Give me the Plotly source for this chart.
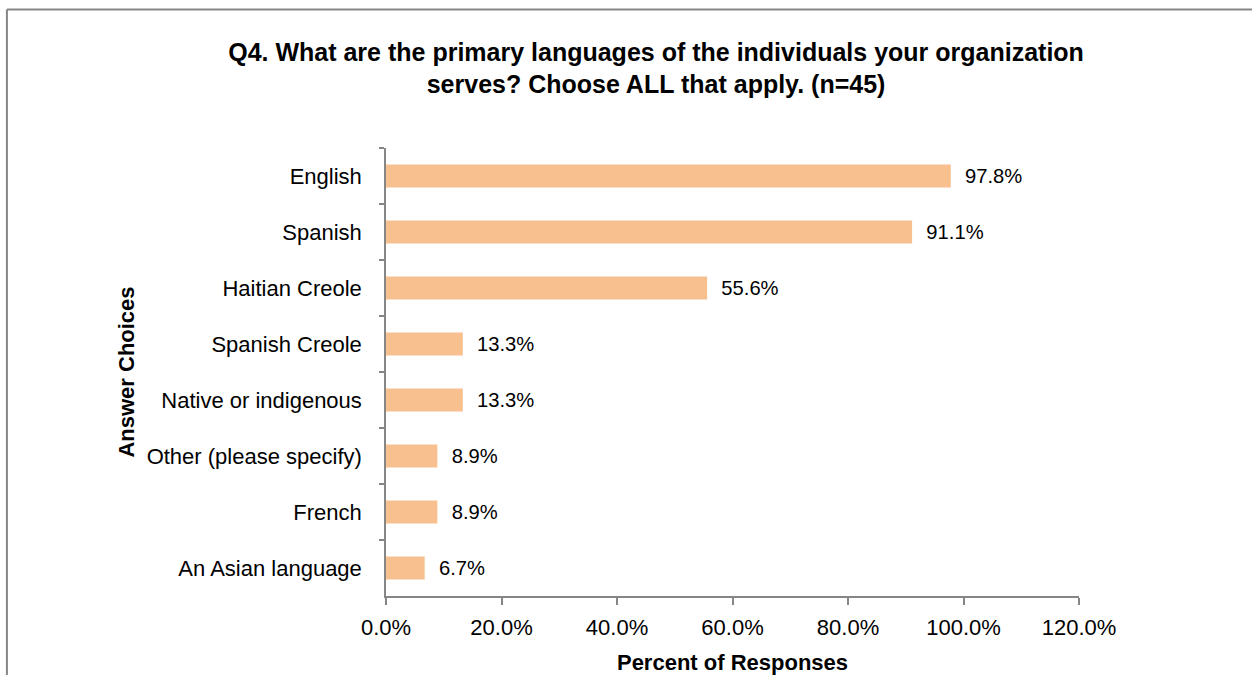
import plotly.graph_objects as go

# answer choices, top to bottom as shown
categories = [
    "English", "Spanish", "Haitian Creole", "Spanish Creole",
    "Native or indigenous", "Other (please specify)", "French", "An Asian language",
]
percents = [97.8, 91.1, 55.6, 13.3, 13.3, 8.9, 8.9, 6.7]

FONT = "Liberation Sans Narrow, Arial Narrow, Liberation Sans, Arial, sans-serif"
AXIS_GREY = "#868686"

fig = go.Figure()
fig.add_trace(go.Bar(
    x=percents,
    y=categories,
    orientation="h",
    marker=dict(color="#F9C08F", line=dict(width=0)),
    width=0.41,
    text=[f"{v:.1f}%" for v in percents],
    texttemplate="  %{text}",
    textposition="outside",
    textfont=dict(family=FONT, size=22, color="#000000"),
    cliponaxis=False,
))

# frame around the chart area (left + top edge visible in the reference)
fig.add_shape(type="line", xref="paper", yref="paper",
              x0=-0.547, x1=1.3, y0=1.309, y1=1.309,
              line=dict(color=AXIS_GREY, width=2))
fig.add_shape(type="line", xref="paper", yref="paper",
              x0=-0.547, x1=-0.547, y0=1.309, y1=-0.3,
              line=dict(color=AXIS_GREY, width=2))

fig.update_layout(
    width=1252, height=675,
    margin=dict(l=386, r=173, t=148, b=79),
    paper_bgcolor="white", plot_bgcolor="white",
    showlegend=False,
    font=dict(family=FONT, size=22, color="#000000"),
    title=dict(
        text="<b>Q4. What are the primary languages of the individuals your organization<br>serves? Choose ALL that apply. (n=45)</b>",
        x=0.524, xanchor="center", y=0.91, yanchor="middle",
        font=dict(family=FONT, size=25, color="#000000"),
    ),
    xaxis=dict(
        range=[0, 120], dtick=20, tick0=0,
        tickformat=".1f", ticksuffix="%",
        showgrid=False, zeroline=False, automargin=False,
        showline=True, linecolor=AXIS_GREY, linewidth=1.5,
        ticks="outside", ticklen=7, tickcolor=AXIS_GREY, tickwidth=1.5,
        ticklabelstandoff=4,
        title=dict(text="<b>Percent of Responses</b>", standoff=16,
                   font=dict(family=FONT, size=22)),
    ),
    yaxis=dict(
        autorange="reversed",
        showgrid=False, automargin=False,
        showline=True, linecolor=AXIS_GREY, linewidth=1.5,
        ticks="outside", ticklen=5, tickcolor=AXIS_GREY, tickwidth=1.5,
        tickson="boundaries",
        ticklabelstandoff=18,
        title=dict(text="<b>Answer Choices</b>", standoff=6,
                   font=dict(family=FONT, size=22)),
    ),
)

fig.write_html("out.html", config={"displayModeBar": False},
               post_script="document.body.style.margin='0';")
